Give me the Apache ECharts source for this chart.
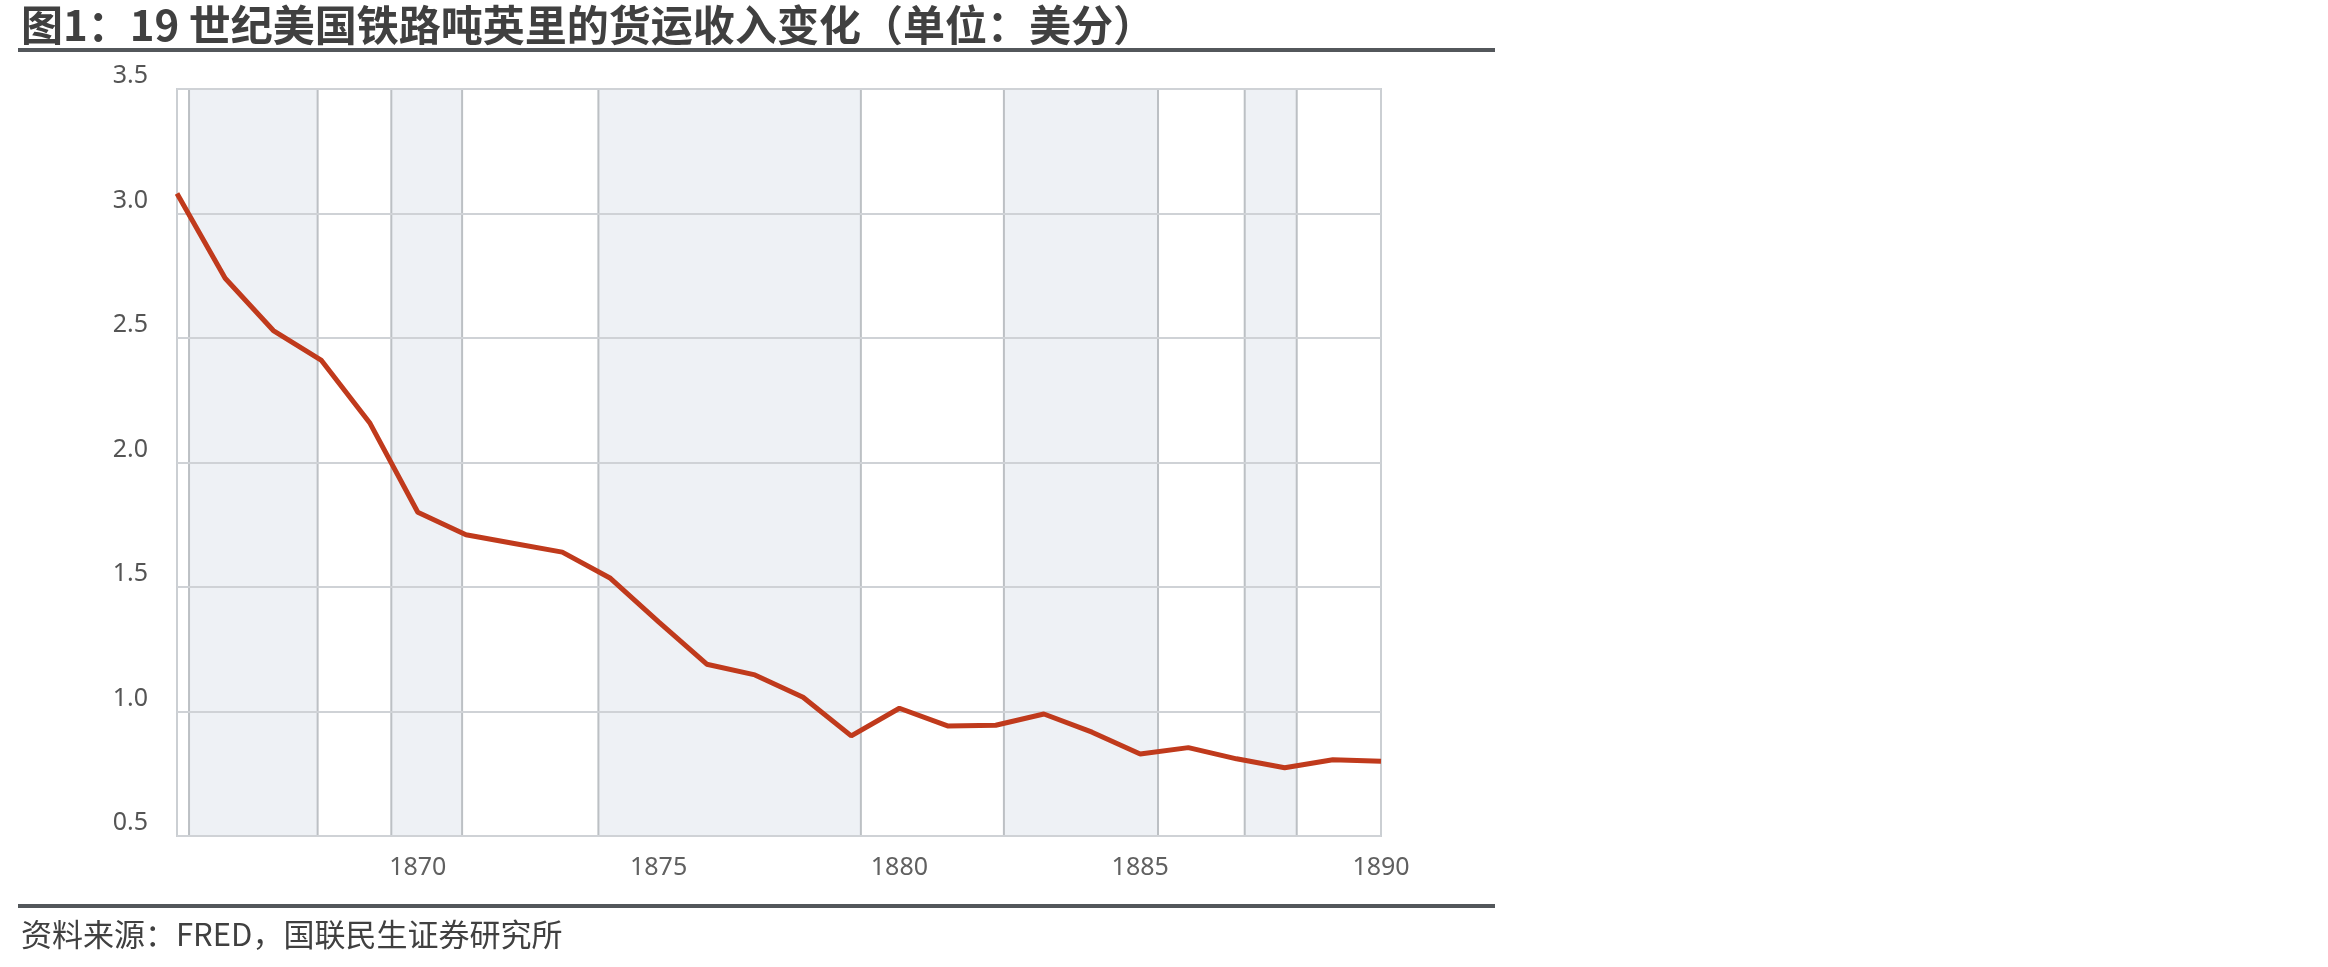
<!DOCTYPE html>
<html>
<head>
<meta charset="utf-8">
<title>19世纪美国铁路吨英里的货运收入变化</title>
<script src="https://cdn.jsdelivr.net/npm/echarts@6/dist/echarts.min.js"></script>
<style>
  html, body { margin: 0; padding: 0; background: #fff; }
  #chart { width: 2328px; height: 967px; }
</style>
</head>
<body>
<div id="chart"></div>
<script>
// 年份与吨英里货运收入（美分）
const years = [1865, 1866, 1867, 1868, 1869, 1870, 1871, 1872, 1873, 1874, 1875, 1876, 1877,
  1878, 1879, 1880, 1881, 1882, 1883, 1884, 1885, 1886, 1887, 1888, 1889, 1890]
const revenue = [3.08, 2.74, 2.53, 2.41, 2.16, 1.80, 1.71, 1.675, 1.64, 1.535, 1.36, 1.19, 1.147,
  1.057, 0.902, 1.013, 0.942, 0.945, 0.99, 0.917, 0.829, 0.855, 0.81, 0.774, 0.806, 0.8]
// 衰退期阴影（起止年份）
const recessionStart = [1865.25, 1869.45, 1873.75, 1882.17, 1887.17]
const recessionEnd = [1867.92, 1870.92, 1879.2, 1885.37, 1888.25]
const yTicks = [0.5, 1.0, 1.5, 2.0, 2.5, 3.0, 3.5]

const chart = echarts.init(document.getElementById('chart'), null, { renderer: 'canvas' })

chart.setOption({
  backgroundColor: '#fff',
  animation: false,
  grid: {
    left: 177,
    top: 89,
    right: 947,
    bottom: 131,
    show: true,
    borderColor: '#cbcfd3',
    borderWidth: 2
  },
  xAxis: {
    type: 'value',
    min: years[0],
    max: years[years.length - 1],
    interval: 5,
    axisLine: { show: false },
    axisTick: { show: false },
    splitLine: { show: false },
    axisLabel: {
      showMinLabel: false,
      margin: 19,
      fontFamily: 'Noto Sans',
      fontSize: 25,
      color: '#606060',
      formatter: v => String(v)
    }
  },
  yAxis: {
    type: 'value',
    z: 2,
    min: yTicks[0],
    max: yTicks[yTicks.length - 1],
    interval: 0.5,
    axisLine: { show: false },
    axisTick: { show: false },
    splitLine: { lineStyle: { color: '#cfd2d6', width: 2 } },
    axisLabel: {
      margin: 29,
      verticalAlign: 'bottom',
      lineHeight: 26,
      fontFamily: 'Noto Sans',
      fontSize: 25,
      color: '#555',
      formatter: v => v.toFixed(1)
    }
  },
  series: [
    {
      // 阴影区
      type: 'line',
      z: 1,
      data: [],
      markArea: {
        silent: true,
        itemStyle: { color: '#eef1f5', borderColor: '#bcc0c4', borderWidth: 2 },
        data: recessionStart.map((s, i) => [{ xAxis: s }, { xAxis: recessionEnd[i] }])
      }
    },
    {
      name: '货运收入',
      type: 'line',
      z: 3,
      symbol: 'none',
      data: years.map((y, i) => [y, revenue[i]]),
      lineStyle: { color: '#c03a1c', width: 5 }
    }
  ],
  graphic: [
    {
      type: 'text',
      left: 21,
      top: 4,
      style: {
        text: '图1：19 世纪美国铁路吨英里的货运收入变化（单位：美分）',
        font: 'bold 42px "Noto Sans CJK SC"',
        fill: '#404040'
      }
    },
    {
      type: 'rect',
      shape: { x: 18, y: 48, width: 1477, height: 4 },
      style: { fill: '#53575b' }
    },
    {
      type: 'rect',
      shape: { x: 18, y: 904, width: 1477, height: 4 },
      style: { fill: '#53575b' }
    },
    {
      type: 'text',
      left: 21,
      top: 919,
      style: {
        text: '资料来源：FRED，国联民生证券研究所',
        font: '31px "Noto Sans CJK SC"',
        fill: '#404040'
      }
    }
  ]
})
</script>
</body>
</html>
